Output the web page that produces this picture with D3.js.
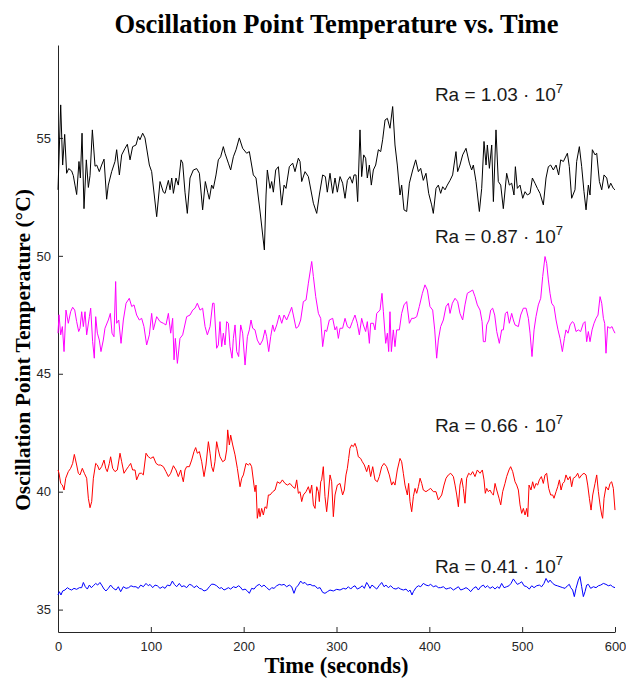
<!DOCTYPE html>
<html lang="en">
<head>
<meta charset="UTF-8">
<title>Oscillation Point Temperature vs. Time</title>
<script src="https://d3js.org/d3.v7.min.js"></script>
<style>
  body { margin: 0; background: #fff; }
  .axis text { font-family: "Liberation Sans", Arial, sans-serif; font-size: 13px; fill: #262626; }
  .axis path, .axis line { stroke: #262626; stroke-width: 1; }
  .series { fill: none; stroke-width: 1; stroke-linejoin: round; }
  .ra { font-family: "Liberation Sans", Arial, sans-serif; font-size: 19px; fill: #1a1a1a; }
  .lbl { font-family: "Liberation Serif", "Times New Roman", serif; font-weight: bold; fill: #000; }
</style>
</head>
<body>
<div id="chart"></div>
<script>

// ---- data (time in s, temperature in C) ----
const xTicks = [0, 100, 200, 300, 400, 500, 600];
const yTicks = [35, 40, 45, 50, 55];

const blackTime = [0,2.9,5.0,7.2,9.3,11.5,14.7,16.5,18.3,20.1,22.6,24.1,25.9,28.0,30.5,32.7,34.5,37.0,39.9,41.7,
  44.5,47.0,49.6,52.4,54.2,57.8,61.4,63.2,66.1,68.6,72.2,74.7,77.6,80.4,84.0,86.5,88.3,91.2,93.7,98.4,
  100.9,106.3,109.9,113.5,115.3,118.9,120.7,122.5,124.3,127.1,129.6,132.5,134.3,136.8,139.3,142.2,145.8,149.4,152.3,155.8,
  158.7,161.2,163.0,165.5,167.3,170.2,172.7,175.2,178.1,179.9,183.5,186.0,188.9,191.8,195.3,198.9,203.2,206.1,210.4,213.3,
  217.6,222.3,224.1,225.5,228.4,230.2,232.0,234.5,237.4,240.9,243.5,245.6,249.2,252.8,255.3,258.9,260.7,262.5,266.1,269.7,
  275.1,278.7,281.5,285.1,288.0,290.1,
  293.0,295.9,298.4,300.9,303.8,306.6,309.2,311.7,314.5,317.1,318.9,321.0,322.8,325.3,327.1,329.3,331.4,333.2,335.4,337.5,
  339.7,342.2,345.1,347.6,349.7,352.3,354.8,357.6,360.5,363.0,365.5,368.4,370.2,372.7,375.6,378.5,382.1,385.3,388.2,390.7,
  393.5,396.4,399.3,402.5,404.3,407.2,409.7,412.2,414.4,416.9,419.4,422.3,425.1,426.6,428.7,430.5,433.0,435.9,439.5,443.1,
  445.6,447.4,450.3,453.9,456.4,458.9,461.1,462.5,464.7,467.2,469.0,471.8,474.3,476.9,479.7,483.3,486.2,488.7,491.2,492.7,
  494.8,497.7,500.6,503.1,505.6,508.5,511.0,513.8,516.4,519.2,522.8,525.7,528.2,530.7,533.6,536.5,539.3,541.5,544.4,548.7,
  550.8,553.3,556.9,558.7,561.6,564.1,566.6,568.8,571.3,573.1,575.6,578.5,580.3,583.2,585.7,588.2,591.1,593.2,595.4,598.2,600];
const blackTemp = [52.8,56.4,53.85,55.15,53.5,53.7,53.6,53.4,53.0,52.6,54.0,53.3,55.2,52.0,54.07,52.9,53.4,55.34,53.8,53.85,
  53.57,53.85,54.1,52.4,53.0,53.57,54.0,54.5,53.43,54.28,54.56,54.73,54.07,54.63,54.7,55.06,54.92,55.2,55.0,53.85,
  53.57,51.66,53.15,52.7,52.65,53.2,52.8,53.3,52.65,53.3,53.0,54.07,53.93,52.7,51.8,53.3,53.64,53.7,53.5,51.95,
  53.15,52.7,52.4,53.0,52.85,53.43,54.07,54.2,54.63,54.35,53.93,53.64,54.2,54.5,55.0,54.56,54.35,54.42,53.43,53.3,
  51.9,50.25,52.58,53.64,52.86,53.15,52.7,53.64,53.78,52.15,53.0,52.86,53.78,53.93,53.57,54.14,54.0,53.15,53.57,53.36,
  52.23,51.8,52.58,53.43,53.36,52.7,
  53.5,52.65,53.3,52.7,53.36,53.08,52.44,53.2,53.36,53.08,53.43,53.43,52.3,55.34,53.36,54.28,54.14,53.3,53.85,53.0,
  53.64,53.85,54.5,54.42,54.92,55.76,55.83,55.41,56.33,54.7,53.85,52.58,53.0,51.95,51.88,53.08,53.64,54.07,53.57,53.71,
  53.2,53.5,52.65,52.16,51.8,52.86,53.0,52.65,52.93,52.8,53.0,53.2,53.43,53.85,54.42,53.57,53.85,54.28,54.56,53.93,
  53.64,53.85,53.15,51.88,52.86,54.85,53.85,54.7,53.71,54.7,52.3,55.34,53.15,53.0,52.0,53.5,53.0,53.08,52.58,53.78,
  52.86,53.0,52.44,52.72,52.58,52.65,53.3,53.08,52.86,52.65,52.16,53.3,53.78,53.85,53.64,53.85,53.43,54.07,54.0,54.35,
  53.78,52.44,52.8,54.0,54.63,53.78,52.72,51.95,53.0,52.58,54.5,54.28,54.35,53.15,52.8,53.43,53.3,52.86,53.08,52.86,52.8];

const magentaTime = [0,1.1,2.9,4.7,6.5,8.6,11.1,13.6,15.8,18.0,20.1,22.3,23.7,25.5,27.3,29.1,30.9,33.8,35.2,37.3,
  39.1,40.6,42.4,44.5,46.3,48.8,50.6,54.2,56.4,58.2,60.3,62.1,63.2,65.4,67.9,70.4,73.3,76.8,79.4,81.9,
  84.7,87.6,90.1,92.6,95.5,98.4,100.9,102.7,106.3,109.9,113.5,116.3,118.9,121.4,123.5,125.0,126.4,128.6,131.4,134.3,
  138.6,142.2,145.1,147.6,150.1,153.0,155.8,158.4,160.9,163.8,166.6,168.1,170.9,172.7,174.5,176.3,178.1,179.9,181.7,183.5,
  185.3,187.5,188.9,190.7,192.5,194.6,196.8,198.9,201.5,204.0,206.1,207.9,209.7,212.2,214.7,217.6,220.5,223.0,224.8,227.0,
  229.1,231.3,233.1,235.6,238.4,241.0,243.5,246.3,249.2,251.7,253.5,256.4,258.9,261.4,264.3,267.2,269.7,273.3,275.1,277.6,
  280.5,283.0,285.1,287.6,289.4,292.3,
  295.9,298.4,300.2,302.0,303.8,306.6,309.2,311.7,314.5,317.1,319.9,322.4,324.6,327.1,328.9,331.4,333.2,335.4,336.8,339.7,
  341.5,343.3,346.9,349.0,350.5,353.0,354.8,356.2,357.6,359.1,361.2,363.0,364.8,367.7,370.2,372.7,375.6,378.5,381.0,383.5,
  386.4,389.2,392.5,395.3,397.9,400.7,403.6,405.8,407.9,409.7,412.2,415.1,418.0,420.5,422.3,424.8,427.7,430.5,433.0,435.9,
  438.4,440.9,443.8,446.7,449.2,451.7,454.6,456.8,458.2,460.3,461.8,464.3,466.1,468.2,470.4,472.6,475.4,477.9,479.7,481.9,
  484.0,486.2,488.7,490.5,492.3,495.9,498.4,501.3,504.2,506.7,508.5,510.6,512.8,514.9,517.4,520.0,522.1,524.6,526.4,528.2,
  530.0,531.8,534.3,536.5,538.6,540.8,543.3,545.5,547.2,549.4,551.6,554.1,555.9,558.0,560.5,563.0,565.9,567.7,569.5,571.3,
  573.1,575.3,577.4,579.6,581.7,583.9,585.7,587.5,588.9,590.3,592.1,594.6,596.8,598.2,600];
const magentaTemp = [46.72,47.5,46.65,47.0,45.94,47.7,47.14,47.63,47.82,47.7,47.21,46.79,46.93,47.63,47.0,47.63,46.65,47.42,47.78,46.36,
  45.66,47.42,46.72,46.43,45.94,46.43,46.93,47.28,47.56,46.72,46.57,48.91,47.14,47.28,46.29,47.28,47.99,48.2,47.85,47.92,
  47.49,47.28,47.35,47.0,46.22,46.65,47.56,46.86,47.42,47.21,47.14,47.07,47.56,46.72,47.35,45.59,46.5,45.44,46.5,46.65,
  47.42,47.49,47.7,47.78,47.99,47.7,47.78,47.0,46.65,47.0,47.99,47.99,46.08,46.22,47.21,46.15,46.72,46.22,47.21,47.14,
  46.15,45.66,46.5,47.07,45.94,45.73,47.07,46.72,45.37,46.57,46.86,47.28,46.93,46.86,46.43,46.22,46.43,46.86,46.57,45.94,
  46.57,47.07,46.79,47.07,47.49,47.14,47.49,47.28,47.56,47.82,47.49,46.93,47.0,47.28,48.06,48.13,48.84,49.76,49.12,48.27,
  47.56,47.35,46.15,46.86,46.79,47.28,
  47.35,46.86,47.0,46.5,46.93,46.93,47.35,47.0,46.93,47.21,47.49,47.14,46.65,47.35,47.07,46.79,47.21,46.29,47.14,47.14,
  46.86,47.56,47.7,48.41,47.63,46.29,46.72,45.94,47.63,45.94,46.86,46.15,46.86,46.86,47.56,47.92,48.06,47.14,47.35,47.35,
  47.42,47.85,48.41,48.77,48.55,47.85,47.7,46.86,45.66,46.43,47.0,47.28,47.85,47.99,47.56,47.99,48.2,48.06,47.56,47.28,
  47.92,48.41,48.48,48.55,48.27,47.92,47.7,47.21,46.36,46.36,47.07,47.28,47.7,47.78,47.49,46.79,46.29,46.86,46.86,47.56,
  47.63,47.14,47.56,47.28,47.07,47.0,47.49,47.78,47.78,47.35,46.72,45.73,46.86,47.42,47.92,48.2,49.12,49.97,49.68,48.98,
  48.41,47.99,47.85,47.28,46.86,46.5,45.94,46.5,46.86,46.72,47.07,47.21,47.14,46.79,46.86,46.79,47.14,47.21,46.36,46.79,
  46.36,46.86,47.14,47.35,47.49,48.27,47.99,47.35,47.14,45.87,47.0,46.93,47.0,46.86,46.72];

const redTime = [0,1.1,2.9,4.7,6.5,8.3,11.1,13.6,15.8,17.6,20.1,21.9,23.7,26.2,28.4,30.9,32.7,34.5,36.3,38.1,
  40.6,42.4,44.5,47.0,49.6,51.4,53.1,55.3,56.7,58.9,61.4,63.9,66.8,68.6,71.1,73.3,75.8,78.3,80.4,83.0,
  84.7,87.6,90.1,91.9,94.8,97.3,99.8,102.7,105.6,108.1,110.6,113.5,116.3,118.9,121.4,124.3,127.1,129.6,132.2,133.6,
  135.0,136.8,138.6,141.5,144.0,146.5,148.3,150.1,152.3,154.8,157.3,159.4,162.0,163.8,165.5,167.3,169.1,170.9,172.7,174.5,
  177.4,179.9,181.7,182.8,184.6,186.0,188.2,190.7,193.2,196.1,197.9,199.7,202.5,205.0,206.8,208.6,211.1,212.2,213.3,214.7,
  216.5,217.6,219.4,221.2,223.0,224.8,226.6,228.4,231.3,233.8,236.3,239.2,241.7,244.5,247.1,249.9,252.8,255.3,257.1,258.9,
  260.7,262.5,264.3,267.2,269.7,271.5,273.3,275.1,276.9,278.7,280.5,281.5,283.0,284.0,285.8,287.6,289.4,291.2,
  293.0,294.8,296.6,298.4,300.9,303.8,306.6,308.4,310.2,311.7,313.1,314.5,316.3,318.1,319.9,321.7,323.5,326.0,327.8,330.0,
  332.5,334.7,336.8,339.0,341.5,344.0,346.1,348.7,351.2,354.0,356.9,359.4,361.2,363.0,365.5,368.4,370.2,372.0,373.8,376.3,
  377.7,379.2,381.0,382.8,384.6,386.4,388.2,390.0,391.8,393.5,396.4,398.9,401.4,404.3,407.2,409.7,413.3,415.8,418.0,420.5,
  423.0,425.9,427.7,429.5,431.3,433.0,434.8,436.6,438.4,440.2,442.4,444.5,446.7,449.2,451.7,454.6,457.1,458.9,460.3,461.8,
  463.6,465.4,467.2,469.0,470.8,472.6,475.1,476.9,479.0,481.5,483.3,485.8,487.6,489.8,492.3,494.1,495.9,497.7,499.5,501.3,
  503.1,504.9,506.0,507.4,509.5,511.3,513.1,514.9,516.7,518.5,520.7,522.8,524.6,526.4,528.6,530.7,532.9,534.3,536.5,538.3,
  540.1,541.9,543.7,545.5,547.2,549.4,551.6,553.3,555.1,557.7,559.8,561.6,564.1,566.6,568.8,570.6,572.4,574.2,576.0,578.5,
  580.3,582.1,583.9,585.7,586.7,588.2,590.3,592.8,594.6,596.4,598.2,600];
const redTemp = [40.92,40.78,40.35,40.28,40.07,40.57,40.85,40.99,41.2,41.58,41.13,40.78,40.71,40.99,40.78,40.57,39.72,39.32,39.58,40.57,
  41.2,41.13,40.92,41.06,41.34,40.99,40.85,41.2,41.48,40.99,40.85,40.92,41.63,41.27,40.78,40.92,41.06,41.2,40.92,40.92,
  40.5,40.78,40.78,40.71,41.63,41.48,41.41,41.48,41.2,41.13,41.13,41.06,40.85,40.64,40.78,41.1,40.92,40.64,40.92,40.64,
  40.42,40.92,41.06,41.06,41.34,41.7,41.87,41.63,41.7,41.27,40.64,41.13,42.12,41.63,41.06,40.85,41.27,42.12,41.77,41.48,
  41.27,41.34,41.77,42.62,41.98,42.4,41.98,41.56,40.99,40.21,40.57,40.71,41.2,41.13,41.2,41.06,40.28,40.0,40.28,38.87,
  39.29,38.94,39.29,39.01,39.36,39.29,39.86,39.86,40.0,40.07,40.42,40.35,40.5,40.35,40.28,40.35,40.21,40.14,40.5,39.93,
  40.0,39.58,39.86,40.0,40.21,39.93,40.28,39.44,39.29,40.21,40.0,39.58,40.42,40.5,41.06,39.79,39.15,39.86,
  40.71,40.42,38.94,39.86,40.28,40.35,39.86,40.07,40.71,40.99,41.41,41.84,41.98,41.91,42.05,41.84,41.48,41.41,41.27,41.13,
  40.85,41.13,40.64,41.06,40.5,40.42,40.64,41.06,41.2,41.06,40.71,40.28,40.42,40.28,40.92,41.41,41.27,40.78,40.28,39.86,
  40.35,39.58,39.15,39.79,40.14,39.93,40.21,40.57,40.35,40.07,40.0,40.07,40.14,40.0,40.0,39.65,39.86,40.28,40.57,40.71,
  40.78,40.64,40.28,39.86,39.36,40.28,40.57,40.14,39.51,40.57,40.78,40.71,40.85,40.64,40.92,40.78,40.92,40.5,39.93,40.14,
  40.0,40.07,39.93,39.86,40.35,40.07,39.72,39.44,40.0,40.35,40.64,40.92,41.06,40.85,40.42,40.28,40.07,39.44,39.08,39.29,
  39.01,39.29,38.94,40.28,40.07,40.42,40.14,40.35,40.28,40.5,40.64,40.35,40.71,40.78,40.14,39.86,39.86,39.72,40.0,40.21,
  40.5,40.07,40.35,40.42,40.71,40.5,40.64,40.21,40.57,40.64,40.78,40.57,40.71,40.78,40.71,40.28,39.72,39.22,39.86,40.35,
  40.71,40.0,39.44,39.01,38.87,39.72,40.21,40.07,40.35,40.42,40.14,39.22];

const blueTime = [0,1.4,3.2,5.0,7.5,10.1,12.2,14.7,17.2,20.1,23.0,25.5,27.3,29.4,31.6,33.8,35.9,38.1,40.6,42.7,
  45.2,47.0,49.6,51.7,54.2,56.7,59.6,62.5,65.0,67.5,70.4,73.3,76.1,78.6,81.2,84.0,86.5,89.1,91.9,94.8,
  97.3,99.1,102.0,104.5,107.0,109.9,112.8,115.3,117.8,120.7,123.2,125.3,127.8,130.7,133.2,135.7,138.6,141.5,144.0,146.5,
  149.4,152.3,154.8,157.3,160.2,163.0,165.5,168.1,170.9,173.8,176.3,178.8,181.0,183.5,186.0,188.9,191.8,194.3,196.1,198.9,
  201.5,204.0,206.1,208.6,211.2,214.0,216.9,219.4,221.9,224.8,227.7,230.2,232.7,235.6,238.4,241.0,243.5,246.3,249.2,251.7,
  254.2,256.4,258.9,261.4,263.6,266.1,268.6,271.5,274.4,276.9,279.4,282.3,285.1,287.6,290.2,
  293.0,296.6,300.2,303.8,307.4,310.2,312.8,315.3,317.4,319.9,322.4,325.3,327.8,330.0,332.5,334.3,336.1,338.2,340.4,343.3,
  345.8,348.7,351.2,353.3,355.8,358.4,361.2,364.1,366.6,369.1,372.0,374.9,377.4,379.2,381.3,382.8,385.6,388.2,390.7,393.5,
  396.4,398.9,401.4,404.3,407.2,409.7,412.2,415.1,418.0,420.5,423.0,425.9,428.7,431.3,433.8,436.6,439.5,442.0,444.5,447.4,
  450.3,452.8,455.3,458.2,460.3,462.5,465.4,468.2,470.8,473.3,475.4,477.9,480.5,483.3,485.8,488.0,490.5,492.7,494.8,497.0,
  499.5,502.0,504.9,507.7,510.3,512.8,515.6,518.5,521.0,523.5,525.7,528.2,530.0,532.9,535.4,537.9,540.8,543.7,546.2,548.7,
  550.8,552.3,554.4,556.2,558.0,560.5,562.3,564.1,565.9,567.7,569.5,571.3,573.8,576.7,579.6,582.1,584.6,587.5,590.3,592.8,
  595.4,597.5,600];
const blueTemp = [35.62,35.76,35.62,35.79,35.83,35.93,35.87,35.83,35.9,35.86,35.93,35.93,36.15,35.97,35.87,36.04,35.93,36.01,36.11,36.04,
  36.15,36.04,35.87,35.79,35.9,36.04,35.9,35.83,35.97,35.76,35.97,35.9,35.93,36.01,35.97,35.97,35.9,36.04,35.97,36.11,
  36.01,36.07,35.93,36.04,36.01,35.9,35.97,35.9,36.04,36.01,36.21,36.07,35.97,36.11,35.97,36.01,35.93,36.07,36.04,35.93,
  36.01,35.9,35.87,35.79,35.83,35.97,36.08,36.07,36.01,35.9,35.93,35.83,35.87,35.93,35.87,35.97,35.93,36.01,35.97,35.83,
  35.87,35.79,35.69,35.9,35.87,36.01,36.07,35.97,36.04,35.93,35.83,35.93,35.9,36.01,36.07,36.04,36.07,35.97,36.04,35.97,
  35.69,35.93,36.04,36.21,36.11,36.15,36.04,36.07,36.01,36.01,35.9,35.93,35.73,35.69,35.76,
  35.83,35.79,35.86,35.83,35.9,35.87,35.97,35.87,35.96,36.01,35.87,35.93,36.01,35.9,36.15,36.04,35.9,36.04,35.97,35.87,
  36.01,36.15,35.97,36.04,35.93,36.01,35.9,35.87,35.93,35.87,35.83,35.87,35.76,35.83,35.62,35.76,35.93,36.01,35.97,36.11,
  36.04,36.01,36.07,35.97,36.01,35.93,35.93,35.97,35.87,35.9,35.93,35.83,35.9,35.97,35.83,35.87,35.93,35.87,35.76,35.9,
  35.97,35.83,35.97,36.04,35.93,36.01,35.9,35.97,35.87,35.97,35.9,36.11,35.93,35.97,36.01,36.11,36.3,36.18,36.07,36.11,
  36.18,36.01,35.97,35.87,36.01,35.93,36.01,36.04,35.97,36.11,36.32,36.15,36.25,36.11,36.04,36.01,35.97,35.93,35.9,36.01,
  36.07,35.93,35.83,35.55,35.9,36.25,36.4,35.97,35.55,35.76,36.04,36.07,35.9,35.97,35.93,36.01,36.04,36.11,36.07,36.01,
  36.04,35.97,35.93];

const seriesColors = ["#000000", "#ff00ff", "#ff0000", "#0000ff"];
const raValues = ["1.03", "0.87", "0.66", "0.41"];
const raLabelTemp = [56.55, 50.55, 42.55, 36.55];
const raLabelTime = 406;

// ---- layout ----
const width = 626;
const height = 679;
const margin = { top: 45, right: 11, bottom: 47, left: 58 };

const svg = d3.select("#chart")
  .append("svg")
  .attr("width", width)
  .attr("height", height);

const x = d3.scaleLinear()
  .domain([0, 600])
  .range([margin.left, width - margin.right]);

const y = d3.scaleLinear()
  .domain([34.05, 58.94])
  .range([height - margin.bottom, margin.top]);

// axes, MATLAB style: ticks pointing in, no box
svg.append("g")
  .attr("class", "axis")
  .attr("transform", `translate(0,${height - margin.bottom})`)
  .call(d3.axisBottom(x).tickValues(xTicks).tickSizeInner(-5).tickSizeOuter(0).tickPadding(10));

svg.append("g")
  .attr("class", "axis")
  .attr("transform", `translate(${margin.left},0)`)
  .call(d3.axisLeft(y).tickValues(yTicks).tickSizeInner(-5).tickSizeOuter(0).tickPadding(7));

// lines
const line = d3.line()
  .x(d => x(d[0]))
  .y(d => y(d[1]));

const series = [
  d3.zip(blackTime, blackTemp),
  d3.zip(magentaTime, magentaTemp),
  d3.zip(redTime, redTemp),
  d3.zip(blueTime, blueTemp)
];

svg.append("g")
  .selectAll("path")
  .data(series)
  .join("path")
  .attr("class", "series")
  .attr("stroke", (d, i) => seriesColors[i])
  .attr("d", line);

// Ra labels
const ra = svg.append("g")
  .selectAll("text")
  .data(raValues)
  .join("text")
  .attr("class", "ra")
  .attr("x", x(raLabelTime))
  .attr("y", (d, i) => y(raLabelTemp[i]));

ra.append("tspan").text(d => `Ra = ${d} \u00b7 10`);
ra.append("tspan").attr("dy", -8).attr("font-size", "13px").text("7");

// titles
svg.append("text")
  .attr("class", "lbl")
  .attr("x", (margin.left + width - margin.right) / 2)
  .attr("y", 33)
  .attr("text-anchor", "middle")
  .style("font-size", "26.5px")
  .text("Oscillation Point Temperature vs. Time");

svg.append("text")
  .attr("class", "lbl")
  .attr("x", (margin.left + width - margin.right) / 2)
  .attr("y", 673)
  .attr("text-anchor", "middle")
  .style("font-size", "22.5px")
  .text("Time (seconds)");

svg.append("text")
  .attr("class", "lbl")
  .attr("transform", "translate(30,350) rotate(-90)")
  .attr("text-anchor", "middle")
  .style("font-size", "21.5px")
  .text("Oscillation Point Temperature (\u00b0C)");

</script>
</body>
</html>
